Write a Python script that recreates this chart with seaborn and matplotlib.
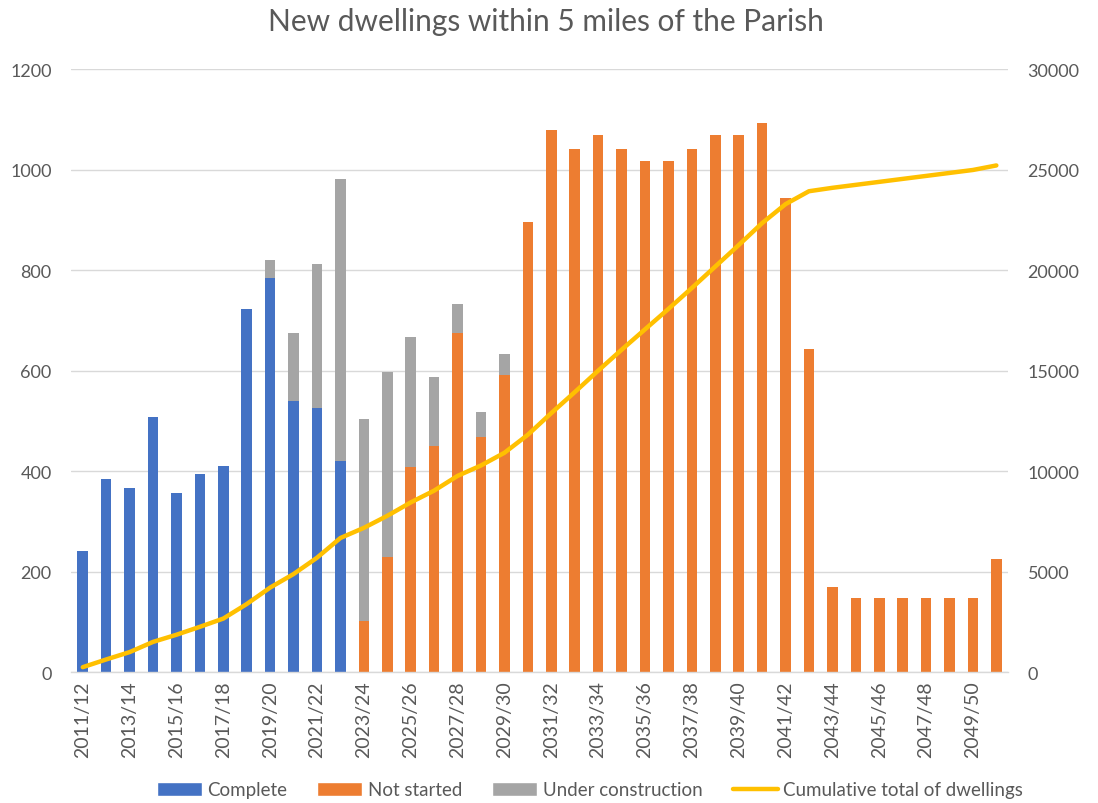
import numpy as np
import pandas as pd
import matplotlib
matplotlib.use("Agg")
import matplotlib.pyplot as plt
import seaborn as sns
from matplotlib.patches import Patch
from matplotlib.lines import Line2D

periods = [
    "2011/12", "2012/13", "2013/14", "2014/15", "2015/16", "2016/17", "2017/18", "2018/19",
    "2019/20", "2020/21", "2021/22", "2022/23", "2023/24", "2024/25", "2025/26", "2026/27",
    "2027/28", "2028/29", "2029/30", "2030/31", "2031/32", "2032/33", "2033/34", "2034/35",
    "2035/36", "2036/37", "2037/38", "2038/39", "2039/40", "2040/41", "2041/42", "2042/43",
    "2043/44", "2044/45", "2045/46", "2046/47", "2047/48", "2048/49", "2049/50", "2050/51",
]

complete = [241, 384, 366, 508, 356, 394, 411, 723, 785, 540, 526, 419] + [0] * 28

under_construction = [0] * 8 + [34, 134, 286, 562, 403, 369, 259, 137, 59, 51, 41] + [0] * 21

not_started = [0] * 12 + [
    101, 229, 408, 450, 674, 467, 591,
    896, 1078, 1041, 1068, 1041, 1016, 1016, 1041, 1068, 1068, 1092, 944, 643,
    170, 148, 148, 148, 148, 148, 148, 225,
]

cumulative_total = [
    241, 625, 991, 1499, 1855, 2249, 2660, 3383, 4202, 4876, 5688, 6669,
    7173, 7771, 8438, 9025, 9758, 10276, 10908, 11804, 12882, 13923, 14991, 16032,
    17048, 18064, 19105, 20173, 21241, 22333, 23277, 23920, 24090, 24238, 24386, 24534,
    24682, 24830, 24978, 25203,
]

BLUE = "#4472C4"
ORANGE = "#ED7D31"
GREY = "#A5A5A5"
YELLOW = "#FFC000"
TEXT = "#595959"
GRID = "#D9D9D9"

sns.set_theme(style="white")
plt.rcParams["font.family"] = ["Lato", "DejaVu Sans"]

df = pd.DataFrame({
    "period": periods,
    "complete": complete,
    "not_started": not_started,
    "under_construction": under_construction,
})
# stacked height of each bar; the grey part shows above the coloured base
df["stack_top"] = df["complete"] + df["not_started"] + df["under_construction"]

fig = plt.figure(figsize=(10.98, 8.04), dpi=100)
ax = fig.add_axes([0.0647, 0.1629, 0.8534, 0.75])

bar_kw = dict(data=df, x="period", order=periods, width=0.45, saturation=1,
              errorbar=None, linewidth=0, ax=ax)
sns.barplot(y="stack_top", color=GREY, **bar_kw)
sns.barplot(y="complete", color=BLUE, **bar_kw)
sns.barplot(y="not_started", color=ORANGE, **bar_kw)

ax.set_xlim(-0.5, len(periods) - 0.5)
ax.set_ylim(0, 1200)
ax.set_yticks(range(0, 1201, 200))
ax.set_xticks(range(0, len(periods), 2))
ax.set_xticklabels(periods[::2], rotation=90)
ax.set_xlabel("")
ax.set_ylabel("")
ax.grid(axis="y", color=GRID, linewidth=1)
ax.set_axisbelow(True)
for side in ("left", "right", "top"):
    ax.spines[side].set_visible(False)
ax.spines["bottom"].set_color(GRID)
ax.spines["bottom"].set_linewidth(1)
ax.tick_params(axis="y", length=0, pad=14, labelsize=13, labelcolor=TEXT)
ax.tick_params(axis="x", length=0, pad=6, labelsize=14, labelcolor=TEXT)

ax2 = ax.twinx()
sns.lineplot(x=np.arange(len(periods)), y=cumulative_total, color=YELLOW,
             linewidth=3.2, ax=ax2, solid_joinstyle="round", solid_capstyle="round")
ax2.set_ylim(0, 30000)
ax2.set_yticks(range(0, 30001, 5000))
ax2.set_ylabel("")
for side in ("left", "right", "top", "bottom"):
    ax2.spines[side].set_visible(False)
ax2.tick_params(axis="y", length=0, pad=14, labelsize=13, labelcolor=TEXT)
ax2.grid(False)

fig.text(546 / 1098, 1 - 22 / 804, "New dwellings within 5 miles of the Parish",
         ha="center", va="center", fontsize=21.5, color=TEXT)

handles = [
    Patch(facecolor=BLUE, label="Complete"),
    Patch(facecolor=ORANGE, label="Not started"),
    Patch(facecolor=GREY, label="Under construction"),
    Line2D([0], [0], color=YELLOW, linewidth=3.2, label="Cumulative total of dwellings"),
]
leg = fig.legend(handles=handles, loc="center", ncol=4, frameon=False,
                 bbox_to_anchor=(590 / 1098, 1 - 791 / 804), fontsize=13.5,
                 handlelength=2.4, handleheight=0.7, handletextpad=0.3,
                 columnspacing=1.6)
for t in leg.get_texts():
    t.set_color(TEXT)

fig.savefig("out.png", dpi=100)
